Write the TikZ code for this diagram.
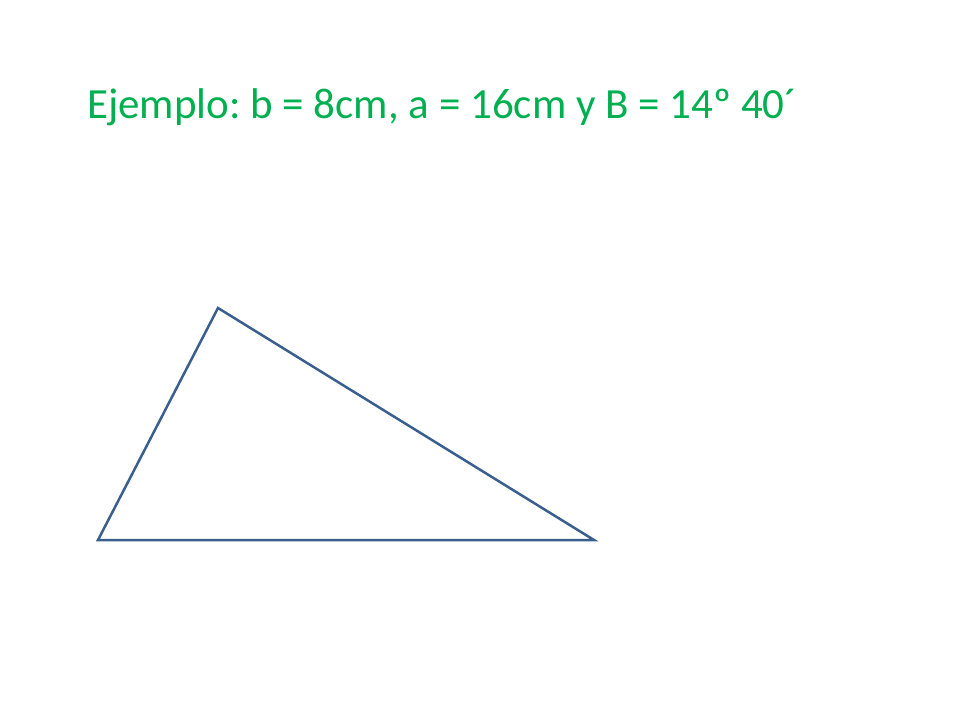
\documentclass[tikz,border=0pt]{standalone}
\usepackage{fontspec}
\setmainfont{Carlito}
\definecolor{titlegreen}{HTML}{00B050}
\definecolor{triblue}{HTML}{3A5F8F}
\begin{document}
\frenchspacing
\begin{tikzpicture}[x=1pt,y=-1pt,
  side/.style={draw=triblue,line width=2.5pt,line join=miter},
  title/.style={anchor=base west,inner sep=0pt,text=titlegreen,font=\fontsize{43}{50}\selectfont}]
\useasboundingbox (0,0) rectangle (960,720);
\node[title] (t) at (87,118) {Ejemplo: b = 8cm, a = 16cm y B = 14º 40´};
\coordinate (A) at (98,540);
\coordinate (C) at (218,308);
\coordinate (B) at (594,540);
\draw[side] (A) -- (C) -- (B) -- cycle;
\end{tikzpicture}
\end{document}
